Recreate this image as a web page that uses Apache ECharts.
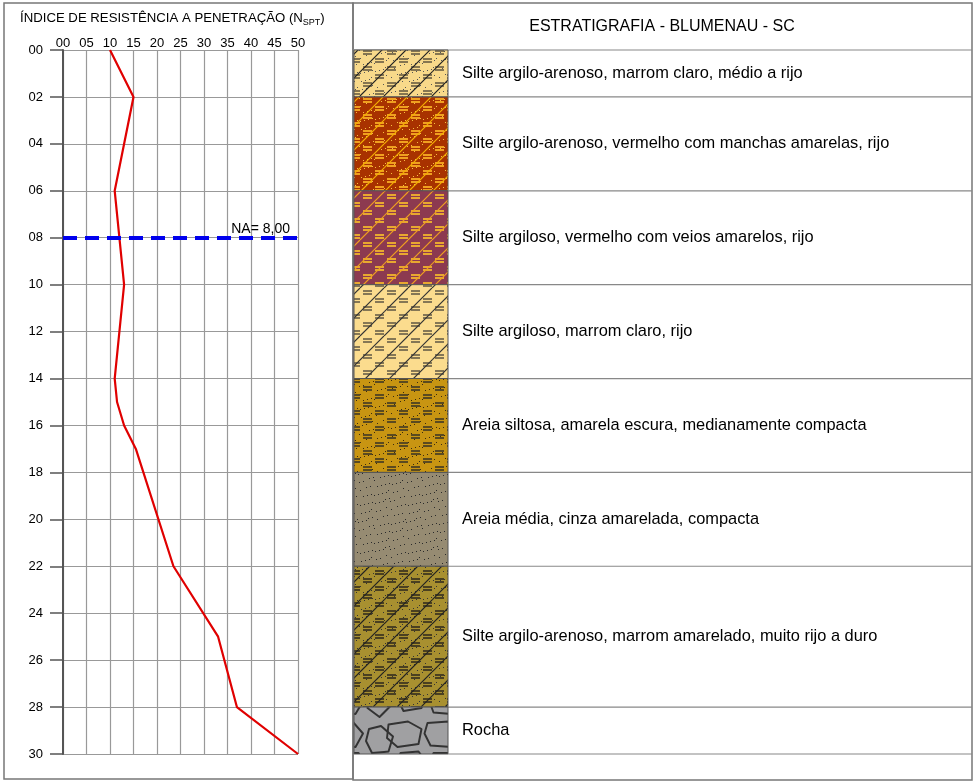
<!DOCTYPE html>
<html>
<head>
<meta charset="utf-8">
<script src="https://cdn.jsdelivr.net/npm/echarts@6/dist/echarts.min.js"></script>
<style>
html, body { margin: 0; padding: 0; background: #fff; }
#chart { width: 975px; height: 782px; }
</style>
</head>
<body>
<div id="chart"></div>
<script>
// ==============================================================
// SPT profile + stratigraphy (Blumenau - SC)
// ==============================================================
var depth = [0, 2, 6, 10, 14, 15, 16, 17, 22, 25, 28, 30];
var nspt = [10, 15, 11, 13, 11, 11.5, 13, 15.5, 23.5, 33, 37, 50];
var waterLevel = 8;
var xTickLabels = ['00', '05', '10', '15', '20', '25', '30', '35', '40', '45', '50'];
var yTickLabels = ['00', '02', '04', '06', '08', '10', '12', '14', '16', '18', '20', '22', '24', '26', '28', '30'];

var layerTop = [0, 2, 6, 10, 14, 18, 22, 28];
var layerBottom = [2, 6, 10, 14, 18, 22, 28, 30];
var layerNames = [
    'Silte argilo-arenoso, marrom claro, médio a rijo',
    'Silte argilo-arenoso, vermelho com manchas amarelas, rijo',
    'Silte argiloso, vermelho com veios amarelos, rijo',
    'Silte argiloso, marrom claro, rijo',
    'Areia siltosa, amarela escura, medianamente compacta',
    'Areia média, cinza amarelada, compacta',
    'Silte argilo-arenoso, marrom amarelado, muito rijo a duro',
    'Rocha'
];

// fill textures for each layer
var layerLook = [
    {bg: '#f8d98a', hatch: '#222', dash: '#857550', dot: '#555'},
    {bg: '#a83200', hatch: '#f5b000', dash: '#f0a020', dot: '#f7c040'},
    {bg: '#8c3a50', hatch: '#f0a020', dash: '#e8a830'},
    {bg: '#fbdc8e', hatch: '#333', dash: '#857755'},
    {bg: '#c89512', dash: '#5a4a20', dot: '#3a2a10'},
    {bg: '#968b72', dot: '#2a2a2a'},
    {bg: '#a89030', hatch: '#222', dash: '#4a4020', dot: '#333'},
    {bg: '#a0a0a2', rock: '#333'}
];

var font = '"Liberation Sans", Arial, sans-serif';

function makePattern(look) {
    var W = look.rock ? 96 : 48, H = look.rock ? 72 : 48;
    var c = document.createElement('canvas');
    c.width = W; c.height = H;
    var ctx = c.getContext('2d');
    ctx.fillStyle = look.bg;
    ctx.fillRect(0, 0, W, H);
    var i, r, k;
    if (look.dot) {
        ctx.fillStyle = look.dot;
        for (k = 0; k < 70; k++) {
            ctx.fillRect((k * 31 + 5) % W, (k * 19 + 3 + (k >> 4) * 5) % H, 1, 1);
        }
    }
    if (look.dash) {
        ctx.fillStyle = look.dash;
        for (r = 0; r < 6; r++) {
            var off = (r % 2) * 12;
            for (i = -1; i < 3; i++) {
                var x = off + i * 24 + 3, y = r * 8 + 2;
                ctx.fillRect(x, y, 9, 2);
                ctx.fillRect(x, y + 3, 9, 2);
            }
        }
    }
    if (look.hatch) {
        ctx.strokeStyle = look.hatch;
        ctx.lineWidth = 1.2;
        for (i = -2; i < 3; i++) {
            ctx.beginPath();
            ctx.moveTo(i * 24, H);
            ctx.lineTo(i * 24 + 48, 0);
            ctx.stroke();
        }
    }
    if (look.rock) {
        // rounded cobbles, drawn wrapped so the tile repeats cleanly
        var stones = [
            [[3, 3], [16, 1], [25, 6], [23, 16], [9, 18], [2, 12]],
            [[29, 2], [43, 1], [50, 9], [45, 18], [31, 17], [27, 9]],
            [[54, 6], [62, 4], [70, 11], [67, 21], [56, 22], [52, 14]],
            [[11, 22], [23, 21], [29, 29], [25, 40], [13, 42], [8, 32]],
            [[33, 22], [47, 22], [52, 32], [45, 44], [33, 43], [29, 32]],
            [[56, 27], [66, 26], [70, 37], [61, 46], [53, 40]]
        ];
        ctx.strokeStyle = look.rock;
        ctx.lineWidth = 1.3;
        ctx.lineJoin = 'round';
        ctx.save();
        ctx.scale(1.5, 1.5);
        stones.forEach(function (s) {
            [-64, 0, 64].forEach(function (dx) {
                [-48, 0, 48].forEach(function (dy) {
                    ctx.beginPath();
                    s.forEach(function (p, j) {
                        if (j === 0) ctx.moveTo(p[0] + dx, p[1] + dy);
                        else ctx.lineTo(p[0] + dx, p[1] + dy);
                    });
                    ctx.closePath();
                    ctx.stroke();
                });
            });
        });
        ctx.restore();
    }
    return {image: c, repeat: 'repeat'};
}

var patterns = layerLook.map(makePattern);
var panelRight = 972;

function renderLayer(params, api) {
    var i = api.value(2);
    var p0 = api.coord([0, api.value(0)]);
    var p1 = api.coord([1, api.value(1)]);
    return {
        type: 'group',
        children: [
            {type: 'rect', shape: {x: p0[0], y: p0[1], width: p1[0] - p0[0], height: p1[1] - p0[1]},
             style: {fill: patterns[i], stroke: '#555', lineWidth: 1}},
            {type: 'line', shape: {x1: p1[0], y1: p1[1], x2: panelRight, y2: p1[1]},
             style: {stroke: '#888', lineWidth: 1.2}},
            {type: 'text', x: p1[0] + 14, y: (p0[1] + p1[1]) / 2,
             style: {text: layerNames[i], fill: '#000', font: '16.4px ' + font, verticalAlign: 'middle'}}
        ]
    };
}

var myChart = echarts.init(document.getElementById('chart'));

var option = {
    animation: false,
    grid: [
        {left: 63, top: 50, width: 235, height: 704},
        {left: 354, top: 50, width: 94, height: 704}
    ],
    xAxis: [
        {
            gridIndex: 0, type: 'value', position: 'top', min: 0, max: 50, interval: 5,
            axisLine: {show: false}, axisTick: {show: false},
            axisLabel: {margin: 0, color: '#000', fontSize: 13, fontFamily: font,
                formatter: function (v) { return xTickLabels[Math.round(v / 5)]; }},
            splitLine: {show: true, lineStyle: {color: '#999', width: 1.2}}
        },
        {gridIndex: 1, type: 'value', min: 0, max: 1, show: false}
    ],
    yAxis: [
        {
            gridIndex: 0, type: 'value', inverse: true, min: 0, max: 30, interval: 2,
            axisLine: {show: true, lineStyle: {color: '#555', width: 2}},
            axisTick: {show: true, length: 13, lineStyle: {color: '#555', width: 1.5}},
            axisLabel: {margin: 20, color: '#000', fontSize: 13, fontFamily: font,
                formatter: function (v) { return yTickLabels[Math.round(v / 2)]; }},
            splitLine: {show: true, lineStyle: {color: '#999', width: 1.2}}
        },
        {gridIndex: 1, type: 'value', inverse: true, min: 0, max: 30, show: false}
    ],
    series: [
        {
            name: 'NSPT',
            type: 'line',
            xAxisIndex: 0, yAxisIndex: 0,
            data: depth.map(function (d, i) { return [nspt[i], d]; }),
            showSymbol: false,
            lineStyle: {color: '#e00000', width: 2.2},
            z: 3,
            markLine: {
                symbol: 'none', silent: true,
                lineStyle: {color: '#0000ee', width: 4, type: [14, 8]},
                label: {position: 'insideEndTop', distance: [8, 2], fontSize: 14, color: '#000', fontFamily: font,
                    formatter: 'NA= ' + waterLevel.toFixed(2).replace('.', ',')},
                data: [{yAxis: waterLevel}]
            }
        },
        {
            name: 'Estratigrafia',
            type: 'custom',
            xAxisIndex: 1, yAxisIndex: 1,
            renderItem: renderLayer,
            data: layerTop.map(function (t, i) { return [t, layerBottom[i], i]; }),
            z: 2
        }
    ],
    graphic: [
        {type: 'rect', shape: {x: 4, y: 3, width: 349, height: 776}, style: {fill: 'none', stroke: '#777', lineWidth: 1.5}, silent: true},
        {type: 'rect', shape: {x: 353, y: 3, width: 619, height: 777}, style: {fill: 'none', stroke: '#777', lineWidth: 1.5}, silent: true},
        {type: 'line', shape: {x1: 353, y1: 50, x2: panelRight, y2: 50}, style: {stroke: '#888', lineWidth: 1.2}, silent: true},
        {type: 'text', left: 20, top: 10,
         style: {text: 'ÍNDICE DE RESISTÊNCIA A PENETRAÇÃO (N{s|SPT})', font: '13.2px ' + font, fill: '#000',
                 lineHeight: 17, rich: {s: {fontSize: 9, verticalAlign: 'bottom', fontFamily: font}}}},
        {type: 'text', x: 662, y: 27,
         style: {text: 'ESTRATIGRAFIA - BLUMENAU - SC', font: '16px ' + font, fill: '#000',
                 align: 'center', verticalAlign: 'middle'}}
    ]
};

myChart.setOption(option, true);
</script>
</body>
</html>
